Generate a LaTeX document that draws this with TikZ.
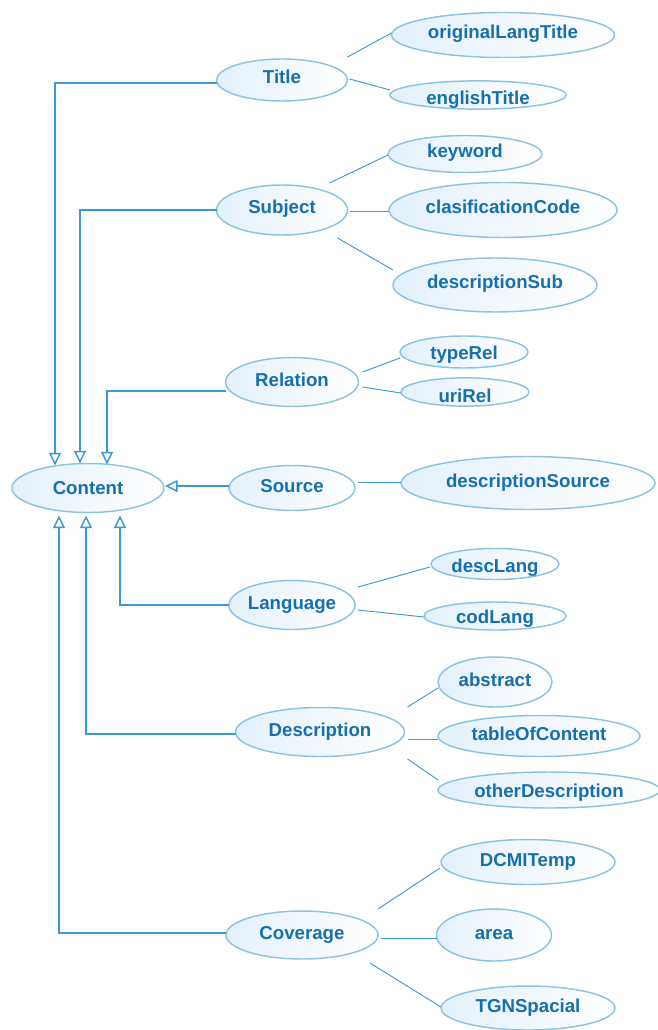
\documentclass[tikz,border=0pt]{standalone}
\usepackage{fontspec}
\setmainfont{Liberation Sans}
\usetikzlibrary{shapes.geometric,arrows.meta,calc}
\definecolor{txtblue}{HTML}{1570AD}
\definecolor{lineblue}{HTML}{3C9AD2}
\definecolor{rimblue}{HTML}{8CC3E3}
\definecolor{fillblue}{HTML}{E3F0FA}
\begin{document}
\begin{tikzpicture}[x=0.75pt,y=-0.75pt,
  cls/.style={ellipse,draw=rimblue,line width=1.1pt,left color=fillblue,right color=white,
    inner sep=0pt,outer sep=0pt,text=txtblue,font=\bfseries\fontsize{14}{16}\selectfont,
    text height=10pt,text depth=4pt},
  low/.style={text height=#1,text depth=0pt},
  sz/.style 2 args={minimum width=#1*0.75pt,minimum height=#2*0.75pt},
  inh/.style={draw=lineblue,line width=1.1pt,-{Triangle[open,length=9.5pt,width=9pt,fill=white]}},
  attr/.style={draw=lineblue,line width=0.7pt}]
\useasboundingbox (0,0) rectangle (657,1030);

% classes
\node[cls,sz={152}{49},low=10pt] (Content) at (88,488) {Content};
\node[cls,sz={131}{42}] (Title) at (282,80) {Title};
\node[cls,sz={131}{50}] (Subject) at (282,210) {Subject};
\node[cls,sz={133}{49}] (Relation) at (292,382) {Relation};
\node[cls,sz={126}{45}] (Source) at (292,488) {Source};
\node[cls,sz={126}{49}] (Language) at (292,605) {Language};
\node[cls,sz={169}{49}] (Description) at (320,732) {Description};
\node[cls,sz={152}{48}] (Coverage) at (302,935) {Coverage};

% attributes
\node[cls,sz={223}{45}] (originalLangTitle) at (503,35) {originalLangTitle};
\node[cls,sz={176}{27},low=15pt] (englishTitle) at (478,95) {englishTitle};
\node[cls,sz={154}{37}] (keyword) at (465,154) {keyword};
\node[cls,sz={228}{55}] (clasificationCode) at (503,210) {clasificationCode};
\node[cls,sz={204}{54}] (descriptionSub) at (495,285) {descriptionSub};
\node[cls,sz={128}{32},low=11pt] (typeRel) at (464,352) {typeRel};
\node[cls,sz={128}{24},low=15pt] (uriRel) at (465,392) {uriRel};
\node[cls,sz={254}{53}] (descriptionSource) at (528,483) {descriptionSource};
\node[cls,sz={128}{31},low=12pt] (descLang) at (495,564) {descLang};
\node[cls,sz={142}{28},low=11pt] (codLang) at (495,616) {codLang};
\node[cls,sz={114}{50}] (abstract) at (495,682) {abstract};
\node[cls,sz={202}{41}] (tableOfContent) at (539,736) {tableOfContent};
\node[cls,sz={222}{36},low=11pt] (otherDescription) at (549,790) {otherDescription};
\node[cls,sz={174}{45}] (DCMITemp) at (528,862) {DCMITemp};
\node[cls,sz={115}{52}] (area) at (494,935) {area};
\node[cls,sz={174}{44}] (TGNSpacial) at (528,1008) {TGNSpacial};

% generalisations into Content
\draw[inh] ($(Title.west)+(0,3)$) -| ($(Content.north)+(-33,2)$);
\draw[inh] (Subject.west) -| ($(Content.north)+(-8,0)$);
\draw[inh] ($(Relation.west)+(0,9)$) -| ($(Content.north)+(19,1)$);
\draw[inh] ($(Source.west)+(0,-2)$) -- ($(Content.east)+(1,-2)$);
\draw[inh] (Language.west) -| ($(Content.south)+(32,3)$);
\draw[inh] ($(Description.west)+(0,2)$) -| ($(Content.south)+(-2,3)$);
\draw[inh] ($(Coverage.west)+(0,-2)$) -| ($(Content.south)+(-29,3)$);

% attribute links
\draw[attr] ($(Title.east)+(0,-23)$) -- ($(originalLangTitle.west)+(0,-2)$);
\draw[attr] ($(Title.east)+(2,-1)$) -- ($(englishTitle.west)+(0,-5)$);
\draw[attr] ($(Subject.east)+(-18,-27)$) -- ($(keyword.west)+(0,1)$);
\draw[attr] ($(Subject.east)+(2,1)$) -- ($(clasificationCode.west)+(0,1)$);
\draw[attr] ($(Subject.east)+(-10,28)$) -- ($(descriptionSub.west)+(0,-15)$);
\draw[attr] ($(Relation.east)+(4,-10)$) -- ($(typeRel.west)+(0,6)$);
\draw[attr] ($(Relation.east)+(4,5)$) -- ($(uriRel.west)+(0,1)$);
\draw[attr] ($(Source.east)+(3,-6)$) -- ($(descriptionSource.west)+(0,-1)$);
\draw[attr] ($(Language.east)+(3,-18)$) -- ($(descLang.west)+(-1,3)$);
\draw[attr] ($(Language.east)+(3,5)$) -- ($(codLang.west)+(0,1)$);
\draw[attr] ($(Description.east)+(3,-25)$) -- ($(abstract.west)+(0,6)$);
\draw[attr] ($(Description.east)+(3,7)$) -- ($(tableOfContent.west)+(0,3)$);
\draw[attr] ($(Description.east)+(3,27)$) -- ($(otherDescription.west)+(0,-10)$);
\draw[attr] ($(Coverage.east)+(0,-26)$) -- ($(DCMITemp.west)+(-1,6)$);
\draw[attr] ($(Coverage.east)+(3,3)$) -- ($(area.west)+(0,3)$);
\draw[attr] ($(Coverage.east)+(-8,28)$) -- ($(TGNSpacial.west)+(0,-1)$);
\end{tikzpicture}
\end{document}
